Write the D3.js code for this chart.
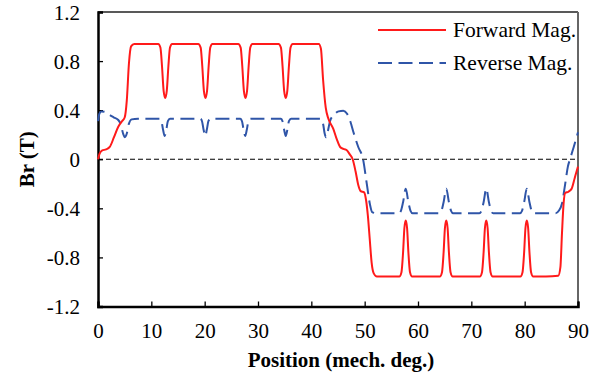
<!DOCTYPE html>
<html>
<head>
<meta charset="utf-8">
<script src="https://cdn.jsdelivr.net/npm/d3@7"></script>
<style>
  html, body { margin: 0; padding: 0; background: #fff; }
  svg { display: block; }
  text { font-family: "Liberation Serif", "Times New Roman", serif; fill: #000; }
</style>
</head>
<body>
<svg id="chart" width="606" height="376"></svg>
<script>
// Radial flux density (Br) along rotor position, forward vs. reverse magnetisation
const xTicks = [0, 10, 20, 30, 40, 50, 60, 70, 80, 90];
const yTicks = [-1.2, -0.8, -0.4, 0, 0.4, 0.8, 1.2];
const seriesNames = ["Forward Mag.", "Reverse Mag."];

// [position (mech. deg.), Br (T)]
const forwardMag = [
  [0, 0.0], [0.3, 0.045], [0.8, 0.072], [1.5, 0.08], [2.2, 0.1], [3.0, 0.18], [3.8, 0.265],
  [4.5, 0.31], [5.0, 0.34], [5.4, 0.48], [5.8, 0.78], [6.2, 0.92], [6.8, 0.94], [9.0, 0.94], [11.3, 0.94],
  [11.7, 0.91], [12.0, 0.76], [12.3, 0.56], [12.6, 0.5], [12.9, 0.56], [13.2, 0.76], [13.5, 0.91], [13.9, 0.94],
  [16.7, 0.94], [18.8, 0.94],
  [19.25, 0.91], [19.55, 0.76], [19.85, 0.56], [20.15, 0.5], [20.45, 0.56], [20.75, 0.76], [21.05, 0.91], [21.45, 0.94],
  [24.0, 0.94], [26.3, 0.94],
  [26.75, 0.91], [27.05, 0.76], [27.35, 0.56], [27.65, 0.5], [27.95, 0.56], [28.25, 0.76], [28.55, 0.91], [28.95, 0.94],
  [31.5, 0.94], [33.85, 0.94],
  [34.3, 0.91], [34.6, 0.76], [34.9, 0.56], [35.2, 0.5], [35.5, 0.56], [35.8, 0.76], [36.1, 0.91], [36.5, 0.94],
  [39.0, 0.94], [41.4, 0.94], [41.8, 0.9], [42.2, 0.65], [42.7, 0.42], [43.2, 0.33], [44.1, 0.25], [44.8, 0.16],
  [45.4, 0.1], [46.0, 0.085], [46.6, 0.075], [47.2, 0.04], [47.75, 0.0], [48.3, -0.1], [48.8, -0.21], [49.25, -0.26],
  [49.9, -0.27], [50.25, -0.33], [50.6, -0.46], [50.95, -0.65], [51.3, -0.84], [51.7, -0.93], [52.3, -0.955],
  [54.5, -0.955], [56.5, -0.955],
  [56.9, -0.92], [57.2, -0.76], [57.45, -0.56], [57.7, -0.5], [57.95, -0.56], [58.2, -0.76], [58.5, -0.92], [58.9, -0.955],
  [62.0, -0.955], [64.1, -0.955],
  [64.5, -0.92], [64.8, -0.76], [65.05, -0.56], [65.3, -0.5], [65.55, -0.56], [65.8, -0.76], [66.1, -0.92], [66.5, -0.955],
  [69.5, -0.955], [71.6, -0.955],
  [72.0, -0.92], [72.3, -0.76], [72.55, -0.56], [72.8, -0.5], [73.05, -0.56], [73.3, -0.76], [73.6, -0.92], [74.0, -0.955],
  [77.0, -0.955], [79.2, -0.955],
  [79.6, -0.92], [79.9, -0.76], [80.15, -0.56], [80.4, -0.5], [80.65, -0.56], [80.9, -0.76], [81.2, -0.92], [81.6, -0.955],
  [84.0, -0.955], [86.3, -0.95], [86.7, -0.88], [87.0, -0.6], [87.3, -0.36], [87.6, -0.275], [88.2, -0.265],
  [88.5, -0.255], [88.8, -0.24], [89.4, -0.15], [90, -0.06]
];

const reverseMag = [
  [0, 0.31], [0.25, 0.37], [0.6, 0.39], [1.4, 0.385], [2.2, 0.36], [3.0, 0.34], [3.8, 0.32], [4.3, 0.28],
  [4.7, 0.21], [5.05, 0.18], [5.4, 0.21], [5.8, 0.29], [6.3, 0.325], [7.5, 0.33], [10.0, 0.33], [11.6, 0.33],
  [11.9, 0.31], [12.2, 0.24], [12.5, 0.19], [12.8, 0.24], [13.1, 0.31], [13.5, 0.33],
  [16.5, 0.33], [19.2, 0.33],
  [19.5, 0.31], [19.8, 0.24], [20.1, 0.19], [20.4, 0.24], [20.7, 0.31], [21.1, 0.33],
  [24.0, 0.33], [26.7, 0.33],
  [27.0, 0.31], [27.3, 0.24], [27.6, 0.19], [27.9, 0.24], [28.2, 0.31], [28.6, 0.33],
  [31.5, 0.33], [34.3, 0.33],
  [34.6, 0.31], [34.9, 0.24], [35.2, 0.19], [35.5, 0.24], [35.8, 0.31], [36.2, 0.33],
  [39.0, 0.33], [41.8, 0.33], [42.2, 0.29], [42.5, 0.21], [42.75, 0.18], [43.05, 0.22], [43.5, 0.31],
  [44.2, 0.36], [45.1, 0.39], [46.0, 0.395], [46.7, 0.37], [47.3, 0.31], [47.9, 0.22], [48.8, 0.1],
  [49.7, 0.0], [50.4, -0.2], [51.0, -0.37], [51.4, -0.43], [52.2, -0.44],
  [54.5, -0.44], [56.4, -0.44],
  [56.8, -0.42], [57.2, -0.35], [57.7, -0.24], [58.2, -0.35], [58.6, -0.42], [59.0, -0.44],
  [62.0, -0.44], [64.0, -0.44],
  [64.4, -0.42], [64.8, -0.35], [65.3, -0.24], [65.8, -0.35], [66.2, -0.42], [66.6, -0.44],
  [69.5, -0.44], [71.5, -0.44],
  [71.9, -0.42], [72.3, -0.35], [72.8, -0.24], [73.3, -0.35], [73.7, -0.42], [74.1, -0.44],
  [77.0, -0.44], [79.1, -0.44],
  [79.5, -0.42], [79.9, -0.35], [80.4, -0.24], [80.9, -0.35], [81.3, -0.42], [81.7, -0.44],
  [84.0, -0.44], [85.8, -0.44], [86.4, -0.42], [87.0, -0.36], [87.6, -0.2], [88.1, -0.06], [88.5, 0.0],
  [89.2, 0.1], [90, 0.22]
];

const svg = d3.select("#chart");
const plot = { left: 98, right: 578, top: 12, bottom: 306.5 };

const x = d3.scaleLinear().domain([0, 90]).range([plot.left, plot.right]);
const y = d3.scaleLinear().domain([-1.2, 1.2]).range([plot.bottom, plot.top]);

// frame: top and right edges
svg.append("line").attr("x1", plot.left).attr("x2", plot.right)
  .attr("y1", plot.top).attr("y2", plot.top)
  .attr("stroke", "#222").attr("stroke-width", 1.5);
svg.append("line").attr("x1", plot.right).attr("x2", plot.right)
  .attr("y1", plot.top).attr("y2", plot.bottom)
  .attr("stroke", "#666").attr("stroke-width", 2);

// zero reference line
svg.append("line").attr("x1", plot.left).attr("x2", plot.right)
  .attr("y1", y(0)).attr("y2", y(0))
  .attr("stroke", "#000").attr("stroke-width", 1.2)
  .attr("stroke-dasharray", "5,3");

const fmtY = d => d === 0 ? "0" : d3.format(".1f")(d).replace("−", "-");

const xAxis = svg.append("g")
  .attr("transform", `translate(0,${plot.bottom})`)
  .call(d3.axisBottom(x).tickValues(xTicks).tickSize(-5).tickPadding(17).tickFormat(d3.format("d")));
const yAxis = svg.append("g")
  .attr("transform", `translate(${plot.left},0)`)
  .call(d3.axisLeft(y).tickValues(yTicks).tickSize(-5).tickPadding(18).tickFormat(fmtY));

[xAxis, yAxis].forEach(g => {
  g.select(".domain").attr("stroke", "#000").attr("stroke-width", 2.5);
  g.selectAll(".tick line").attr("stroke", "#000").attr("stroke-width", 1.3);
  g.selectAll(".tick text")
    .style("font-family", '"Liberation Serif", "Times New Roman", serif')
    .style("font-size", "21px").attr("fill", "#000");
});
yAxis.selectAll(".tick text").attr("dy", "0.34em");

// axis titles
svg.append("text")
  .attr("x", (plot.left + plot.right) / 2 + 3).attr("y", 367)
  .attr("text-anchor", "middle")
  .style("font-size", "21px").style("font-weight", "bold")
  .text("Position (mech. deg.)");
svg.append("text")
  .attr("transform", `translate(34,${y(0)}) rotate(-90)`)
  .attr("text-anchor", "middle")
  .style("font-size", "21px").style("font-weight", "bold")
  .text("Br (T)");

// curves
const line = d3.line()
  .x(d => x(d[0])).y(d => y(d[1]))
  .curve(d3.curveMonotoneX);

svg.append("path").datum(reverseMag)
  .attr("d", line).attr("fill", "none")
  .attr("stroke", "#2f55a8").attr("stroke-width", 2)
  .attr("stroke-dasharray", "14,6.5");

svg.append("path").datum(forwardMag)
  .attr("d", line).attr("fill", "none")
  .attr("stroke", "#ff1a1a").attr("stroke-width", 2);

// legend
const legend = svg.append("g");
const legendItems = [
  { name: seriesNames[0], color: "#ff1a1a", dash: null, cy: 30 },
  { name: seriesNames[1], color: "#2f55a8", dash: "14,6.5", cy: 63 }
];
legendItems.forEach(it => {
  legend.append("line")
    .attr("x1", 378).attr("x2", 446).attr("y1", it.cy).attr("y2", it.cy)
    .attr("stroke", it.color).attr("stroke-width", 2)
    .attr("stroke-dasharray", it.dash);
  legend.append("text")
    .attr("x", 453).attr("y", it.cy + 7)
    .style("font-size", "21.5px")
    .text(it.name);
});
</script>
</body>
</html>
